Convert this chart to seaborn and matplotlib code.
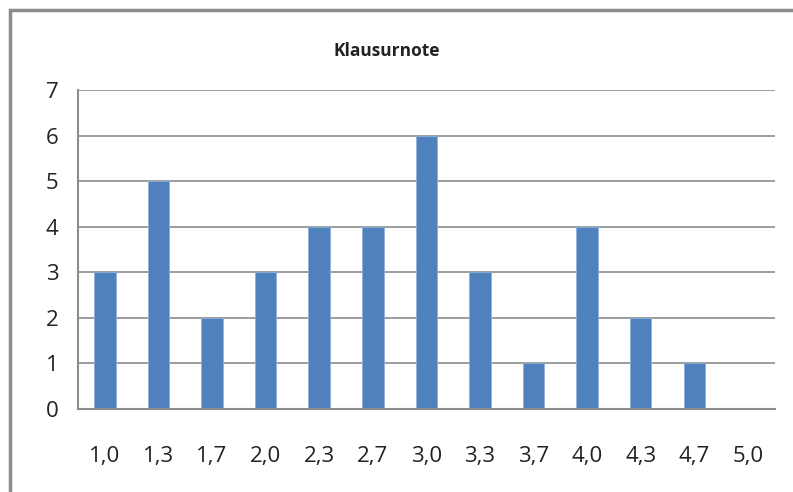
import matplotlib
matplotlib.use("Agg")
import matplotlib.pyplot as plt
import pandas as pd
import seaborn as sns
from matplotlib.patches import Rectangle

grades = ["1,0", "1,3", "1,7", "2,0", "2,3", "2,7", "3,0", "3,3", "3,7", "4,0", "4,3", "4,7", "5,0"]
counts = [3, 5, 2, 3, 4, 4, 6, 3, 1, 4, 2, 1, 0]
yticks = [0, 1, 2, 3, 4, 5, 6, 7]

sns.set_style("white")
plt.rcParams["font.family"] = ["Open Sans", "DejaVu Sans"]

df = pd.DataFrame({"note": grades, "anzahl": counts})

fig = plt.figure(figsize=(7.93, 4.92), dpi=100)
ax = fig.add_axes([0.0984, 0.1687, 0.8786, 0.6483])

sns.barplot(data=df, x="note", y="anzahl", color="#4F81BD", width=0.4,
            saturation=1, edgecolor="#8DB0DC", linewidth=0.6, ax=ax)

ax.set_ylim(0, 7)
ax.set_yticks(yticks)
ax.yaxis.grid(True, color="#8C8C8C", linewidth=1.2)
ax.set_axisbelow(True)
for s in ["top", "right"]:
    ax.spines[s].set_visible(False)
for s in ["left", "bottom"]:
    ax.spines[s].set_color("#8C8C8C")
    ax.spines[s].set_linewidth(1.5)
ax.tick_params(axis="x", length=0, pad=27, labelsize=16, colors="#222222")
ax.tick_params(axis="y", length=0, pad=14, labelsize=16, colors="#222222")
ax.set_xlabel("")
ax.set_ylabel("")
ax.set_xlim(-0.5, len(grades) - 0.5)

fig.text(0.488, 0.897, "Klausurnote", ha="center", va="center",
         fontsize=12.5, fontweight="bold", color="#222222")

# outer chart border, cut off at right/bottom like the reference
fig.patches.append(Rectangle((10 / 793, -0.1), 1.2, (482 / 492) + 0.1,
                             transform=fig.transFigure, fill=False,
                             edgecolor="#8C8C8C", linewidth=2.5))

fig.savefig("out.png", dpi=100)
